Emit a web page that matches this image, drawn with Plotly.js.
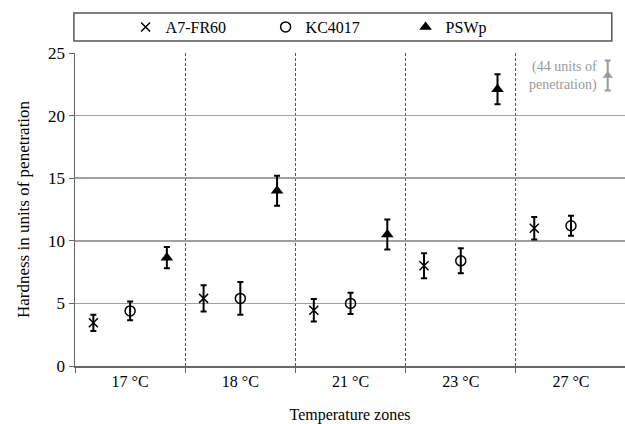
<!DOCTYPE html>
<html><head><meta charset="utf-8">
<script src="https://cdn.plot.ly/plotly-3.0.1.min.js"></script>
<style>html,body{margin:0;padding:0;background:#fff}#chart{width:625px;height:424px}</style>
</head><body><div id="chart"></div>
<script>
// ---- data ----
const zones = ['17 °C', '18 °C', '21 °C', '23 °C', '27 °C'];
const zoneIndex = [0, 1, 2, 3, 4];
const seriesNames = ['A7-FR60', 'KC4017', 'PSWp'];
const a7Values = [3.45, 5.4, 4.45, 8.0, 11.0];
const a7Errors = [0.65, 1.05, 0.9, 1.0, 0.9];
const kcValues = [4.4, 5.4, 5.0, 8.4, 11.2];
const kcErrors = [0.75, 1.3, 0.85, 1.0, 0.8];
const pswValues = [8.65, 14.0, 10.5, 22.1, null];
const pswErrors = [0.85, 1.2, 1.2, 1.2, null];
const offScaleValue = 44;          // PSWp at 27 °C (off the scale)
const offScaleZone = [4];
const offScaleMarkerY = [23.2];    // where the indicator arrow is drawn
const offScaleMarkerErr = [1.2];
const yTicks = [0, 5, 10, 15, 20, 25];

// ---- chart ----
const FONT = 'Liberation Serif';
const offsets = [-1/3, 0, 1/3];
const sep = zoneIndex.map(i => i - 0.5);

function series(name, vals, errs, k, marker) {
  return {
    type: 'scatter', mode: 'markers', name: name,
    x: zoneIndex.map(i => i + offsets[k]), y: vals,
    marker: marker,
    error_y: {type: 'data', array: errs, visible: true, color: '#000', thickness: 2, width: 3},
    cliponaxis: false
  };
}

const traces = [
  series(seriesNames[0], a7Values, a7Errors, 0,
    {symbol: 'x-thin-open', size: 9, color: '#000', line: {color: '#000', width: 1.5}}),
  series(seriesNames[1], kcValues, kcErrors, 1,
    {symbol: 'circle-open', size: 10, color: '#000', line: {color: '#000', width: 1.5}}),
  series(seriesNames[2], pswValues, pswErrors, 2,
    {symbol: 'triangle-up', size: 11, color: '#000', line: {color: '#000', width: 0}}),
  {
    type: 'scatter', mode: 'markers', showlegend: false, hoverinfo: 'skip',
    x: offScaleZone.map(i => i + offsets[2]), y: offScaleMarkerY,
    marker: {symbol: 'triangle-up', size: 9, color: '#9a9a9a'},
    error_y: {type: 'data', array: offScaleMarkerErr, visible: true, color: '#9a9a9a', thickness: 2, width: 3}
  }
];

const layout = {
  width: 625, height: 424,
  margin: {l: 75, r: 0, t: 53, b: 58},
  paper_bgcolor: '#fff', plot_bgcolor: '#fff',
  font: {family: FONT, size: 16, color: '#000'},
  showlegend: true,
  legend: {
    orientation: 'h', x: 0.092, xanchor: 'left', y: 1.083, yanchor: 'middle',
    font: {family: FONT, size: 16, color: '#000'},
    itemwidth: 30, entrywidth: 95, bgcolor: 'rgba(0,0,0,0)', borderwidth: 0
  },
  xaxis: {
    range: [-0.5, 4.49], showgrid: false, zeroline: false,
    tickvals: zoneIndex, ticktext: zones, ticks: '',
    tickfont: {family: FONT, size: 16, color: '#000'},
    showline: true, linecolor: '#666', linewidth: 1.5,
    minor: {tickvals: sep, ticks: 'outside', ticklen: 5, tickcolor: '#666',
            showgrid: true, gridcolor: '#555', griddash: '3px,2px', gridwidth: 1},
    title: {text: 'Temperature zones', font: {family: FONT, size: 16, color: '#000'}, standoff: 34},
    automargin: false,
    fixedrange: true
  },
  yaxis: {
    range: [0, 25], tickvals: yTicks, ticks: 'outside', ticklen: 5, tickcolor: '#666',
    showgrid: true, gridcolor: '#a0a0a0', gridwidth: 1.5, zeroline: false,
    showline: true, linecolor: '#666', linewidth: 1.5,
    tickfont: {family: FONT, size: 17, color: '#000'},
    title: {text: 'Hardness in units of penetration', font: {family: FONT, size: 17, color: '#000'}, standoff: 14},
    fixedrange: true
  },
  shapes: [{
    type: 'rect', xref: 'paper', yref: 'paper',
    x0: -0.002, x1: 0.976, y0: 1.038, y1: 1.128,
    line: {color: '#555', width: 1.5}, fillcolor: 'rgba(0,0,0,0)'
  }],
  annotations: [{
    xref: 'x', yref: 'y', x: offScaleZone[0] + offsets[2], y: offScaleMarkerY[0],
    xshift: -9, xanchor: 'right', yanchor: 'middle', align: 'right', showarrow: false,
    text: '(' + offScaleValue + ' units of<br>penetration)',
    font: {family: FONT, size: 14, color: '#999'}
  }]
};

Plotly.newPlot('chart', traces, layout, {displayModeBar: false, staticPlot: true});
</script>
</body></html>
